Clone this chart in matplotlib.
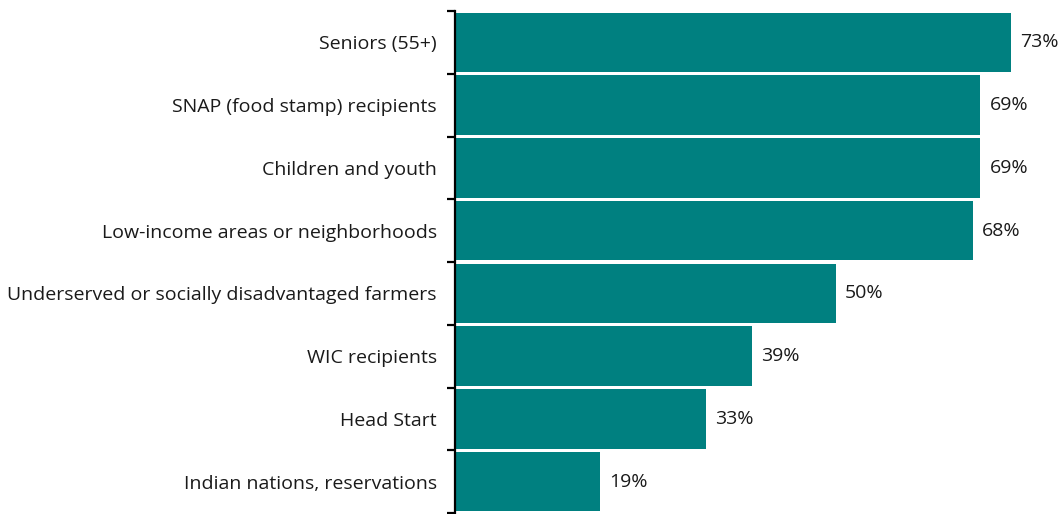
import numpy as np
import matplotlib.pyplot as plt

categories = [
    "Seniors (55+)",
    "SNAP (food stamp) recipients",
    "Children and youth",
    "Low-income areas or neighborhoods",
    "Underserved or socially disadvantaged farmers",
    "WIC recipients",
    "Head Start",
    "Indian nations, reservations",
]
values = [73, 69, 69, 68, 50, 39, 33, 19]

plt.rcParams['font.family'] = ['Open Sans', 'DejaVu Sans']

fig = plt.figure(figsize=(10.64, 5.14), dpi=100)
ax = fig.add_axes([455 / 1064, 1 / 514, 609 / 1064, 502 / 514])

y = np.arange(len(categories))
ax.barh(y, values, height=0.95, color='#008080')

for yi, v in zip(y, values):
    ax.text(v + 1.2, yi, f"{v}%", va='center', ha='left', fontsize=14, color='#1a1a1a')

ax.set_xlim(0, 80)
ax.set_ylim(len(categories) - 0.5, -0.5)
ax.set_yticks(y)
ax.set_yticklabels(categories, fontsize=14, color='#1a1a1a')
ax.tick_params(axis='y', which='major', length=0, pad=13)
ax.set_yticks(np.arange(-0.5, len(categories)), minor=True)
ax.tick_params(axis='y', which='minor', length=5.5, width=1.6, direction='out')
ax.set_xticks([])

for s in ['top', 'right', 'bottom']:
    ax.spines[s].set_visible(False)
ax.spines['left'].set_linewidth(1.6)

fig.savefig('out.png', dpi=100)
